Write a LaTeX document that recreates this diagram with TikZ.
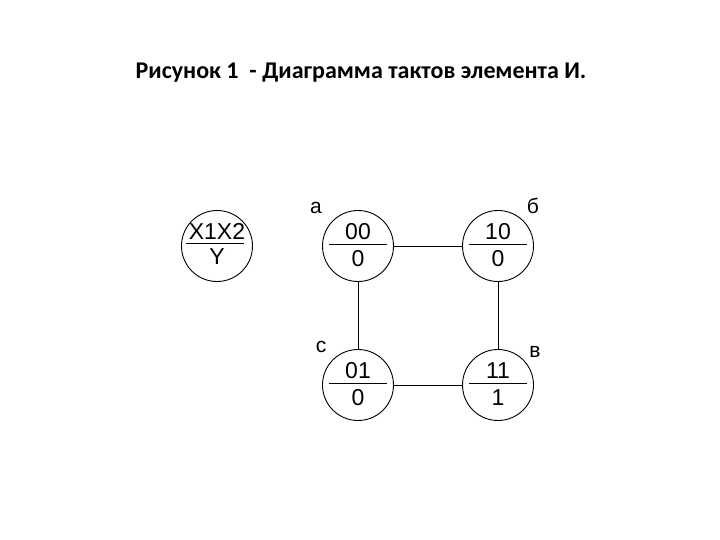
\documentclass[tikz,border=0pt]{standalone}
\usepackage{fontspec}
\setmainfont{Liberation Sans}
\newfontfamily\titlefont{Carlito}
\begin{document}
\begin{tikzpicture}[x=1pt,y=-1pt,
  st/.style={circle,draw,line width=0.9pt,minimum size=71pt,inner sep=0pt},
  txt/.style={inner sep=0pt,font=\fontsize{23}{23}\selectfont},
  lbl/.style={inner sep=0pt,font=\fontsize{21}{21}\selectfont},
  bar/.style={line width=0.9pt},
  edge/.style={line width=0.8pt}]
\useasboundingbox (0,0) rectangle (720,540);
\node[inner sep=0pt,font=\titlefont\bfseries\fontsize{24}{24}\selectfont] (title) at (361,73) {Рисунок 1\ \ - Диаграмма тактов элемента И.};
% legend
\node[st] (leg) at (217,246) {};
\node[txt] (legt) at (217,231) {X1X2};
\node[txt] (legb) at (217,257) {Y};
\draw[bar] ([xshift=-31pt,yshift=3pt]leg.center) -- ([xshift=27pt,yshift=3pt]leg.center);
% states
\node[st] (a) at (358,246) {};
\node[st] (b) at (498,246) {};
\node[st] (c) at (358,385) {};
\node[st] (v) at (498,385) {};
\foreach \n/\t/\o in {a/00/0,b/10/0,c/01/0,v/11/1}{
  \node[txt] (\n t) at ([yshift=14pt]\n.center) {\t};
  \node[txt] (\n o) at ([yshift=-13pt]\n.center) {\o};
  \draw[bar] ([xshift=-29pt,yshift=2pt]\n.center) -- ([xshift=29pt,yshift=2pt]\n.center);
}
\node[lbl] (la) at (316,208) {а};
\node[lbl] (lb) at (533,206) {б};
\node[lbl] (lc) at (321,347) {с};
\node[lbl] (lv) at (535,352) {в};
\draw[edge] (a) -- (b);
\draw[edge] (c) -- (v);
\draw[edge] (a) -- (c);
\draw[edge] (b) -- (v);
\end{tikzpicture}
\end{document}
